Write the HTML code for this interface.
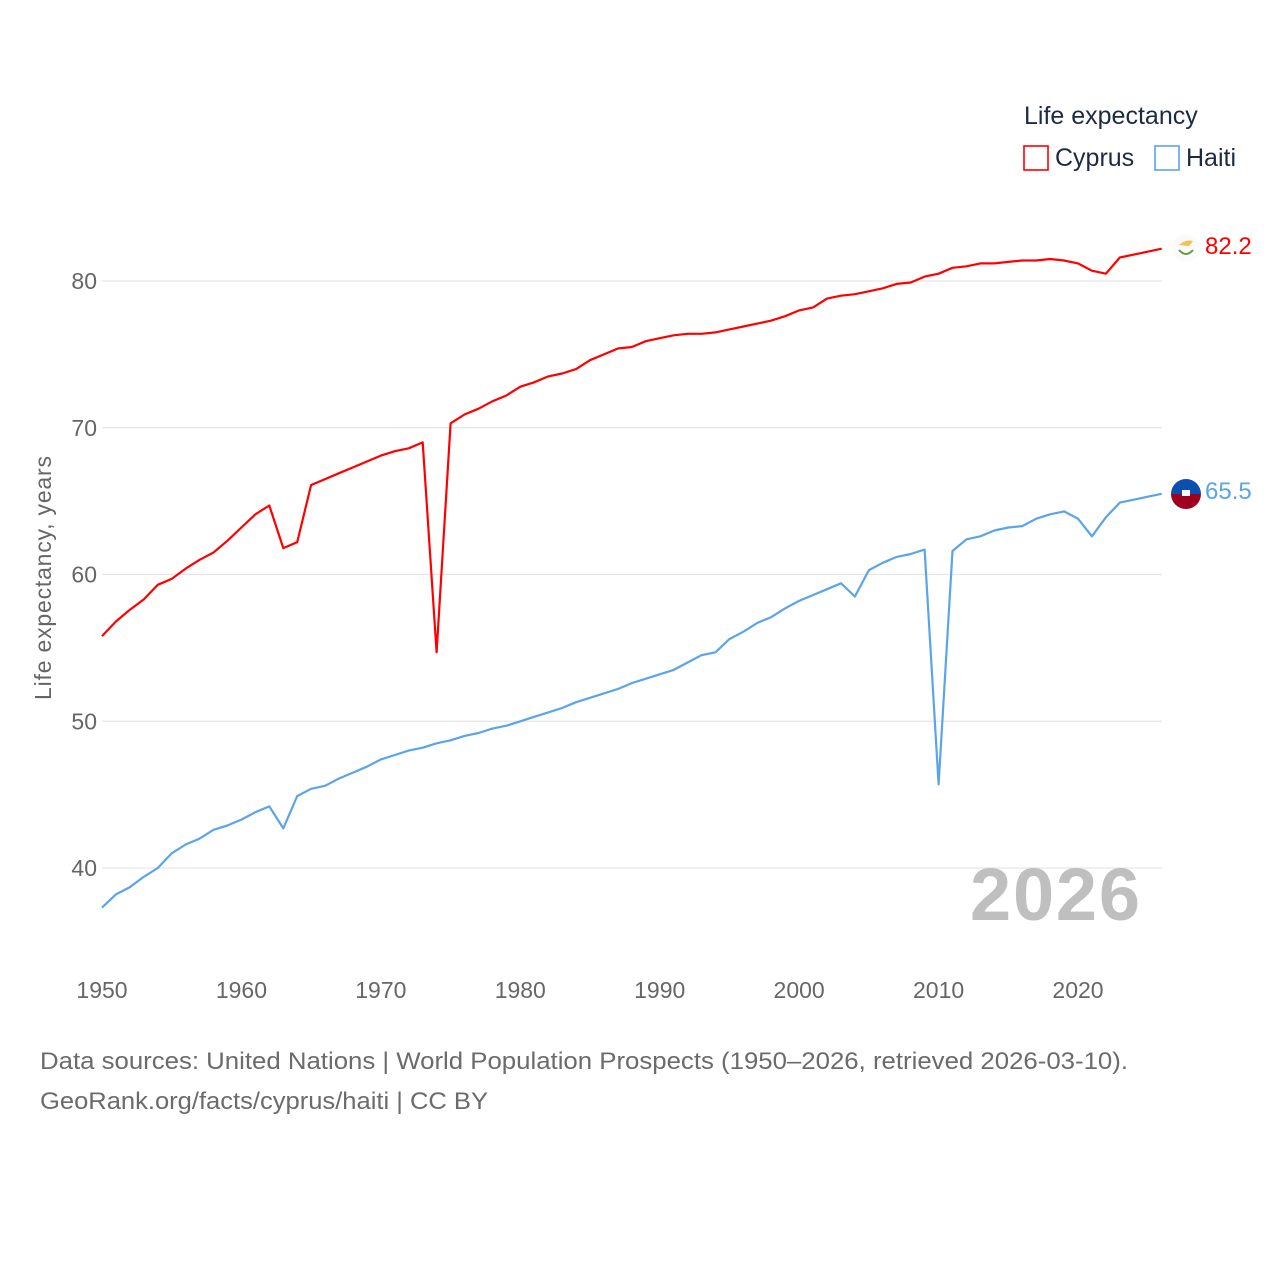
<!DOCTYPE html>
<html><head><meta charset="utf-8"><style>
body{margin:0;background:#fff;font-family:"Liberation Sans",sans-serif}
svg text{font-family:"Liberation Sans",sans-serif}
</style></head><body>
<svg width="1280" height="1280" viewBox="0 0 1280 1280">
<g id="grid"></g>
<g id="ylab"></g>
<g id="xlab"></g>
<text transform="translate(51,578) rotate(-90)" text-anchor="middle" font-size="23" fill="#666" textLength="244">Life expectancy, years</text>
<text x="1140" y="920" text-anchor="end" font-size="74" font-weight="bold" fill="#bfbfbf" textLength="170">2026</text>
<g id="series"></g>
<g>
<text x="1024" y="124" font-size="25" fill="#1d2a44">Life expectancy</text>
<g><rect x="1024" y="146" width="24" height="24" fill="none" stroke="#ff0000" stroke-width="1.6"/><text x="1055" y="166" font-size="25" fill="#1d2a44">Cyprus</text></g>
<g><rect x="1155" y="146" width="24" height="24" fill="none" stroke="#5ba4ea" stroke-width="1.6"/><text x="1186" y="166" font-size="25" fill="#1d2a44">Haiti</text></g>
</g>
<g><circle cx="1186" cy="248" r="14" fill="#fafafa"/><path d="M1179 245 q7 -6 14 -4 l-4 5 z" fill="#f2c14e"/><path d="M1179 250 q7 8 14 0" stroke="#6a9a3a" stroke-width="2" fill="none"/></g>
<g><clipPath id="hc"><circle cx="1186" cy="494" r="15"/></clipPath><g clip-path="url(#hc)"><rect x="1170" y="478" width="32" height="16" fill="#0b4fb0"/><rect x="1170" y="494" width="32" height="16" fill="#a00020"/><rect x="1182" y="490" width="8" height="6" fill="#fff"/></g></g>
<text x="1205" y="254" font-size="24" fill="#ff0000">82.2</text>
<text x="1205" y="499" font-size="24" fill="#5ba4ea">65.5</text>
<text x="40" y="1069" font-size="24" fill="#6b6b6b" textLength="1088" lengthAdjust="spacingAndGlyphs">Data sources: United Nations | World Population Prospects (1950–2026, retrieved 2026-03-10).</text>
<text x="40" y="1109" font-size="24" fill="#6b6b6b" textLength="448" lengthAdjust="spacingAndGlyphs">GeoRank.org/facts/cyprus/haiti | CC BY</text>
</svg>
<script>
const years=[];for(let y=1950;y<=2026;y++)years.push(y);
const yTicks=[40,50,60,70,80];
const xTicks=[1950,1960,1970,1980,1990,2000,2010,2020];
const cyprus=[55.8,56.8,57.6,58.3,59.3,59.7,60.4,61.0,61.5,62.3,63.2,64.1,64.7,61.8,62.2,66.1,66.5,66.9,67.3,67.7,68.1,68.4,68.6,69.0,54.7,70.3,70.9,71.3,71.8,72.2,72.8,73.1,73.5,73.7,74.0,74.6,75.0,75.4,75.5,75.9,76.1,76.3,76.4,76.4,76.5,76.7,76.9,77.1,77.3,77.6,78.0,78.2,78.8,79.0,79.1,79.3,79.5,79.8,79.9,80.3,80.5,80.9,81.0,81.2,81.2,81.3,81.4,81.4,81.5,81.4,81.2,80.7,80.5,81.6,81.8,82.0,82.2];
const haiti=[37.3,38.2,38.7,39.4,40.0,41.0,41.6,42.0,42.6,42.9,43.3,43.8,44.2,42.7,44.9,45.4,45.6,46.1,46.5,46.9,47.4,47.7,48.0,48.2,48.5,48.7,49.0,49.2,49.5,49.7,50.0,50.3,50.6,50.9,51.3,51.6,51.9,52.2,52.6,52.9,53.2,53.5,54.0,54.5,54.7,55.6,56.1,56.7,57.1,57.7,58.2,58.6,59.0,59.4,58.5,60.3,60.8,61.2,61.4,61.7,45.7,61.6,62.4,62.6,63.0,63.2,63.3,63.8,64.1,64.3,63.8,62.6,63.9,64.9,65.1,65.3,65.5];
const X=y=>102+(y-1950)*(976/70);
const Y=v=>281+(80-v)*(587/40);
const NS="http://www.w3.org/2000/svg";
const grid=document.getElementById('grid'),yl=document.getElementById('ylab'),xl=document.getElementById('xlab'),sg=document.getElementById('series');
yTicks.forEach(t=>{
 const l=document.createElementNS(NS,'line');
 
 
 l.setAttribute('x1',102);l.setAttribute('x2',1162);l.setAttribute('y1',Y(t));l.setAttribute('y2',Y(t));
 l.setAttribute('stroke','#e6e6e6');l.setAttribute('stroke-width','1.3');grid.appendChild(l);
 const tx=document.createElementNS(NS,'text');
 
 
 tx.setAttribute('x',97);tx.setAttribute('y',Y(t)+8);tx.setAttribute('text-anchor','end');tx.setAttribute('font-size','23');tx.setAttribute('fill','#666');tx.textContent=t;yl.appendChild(tx);
});
xTicks.forEach(t=>{
 const tx=document.createElementNS(NS,'text');
 
 
 tx.setAttribute('x',X(t));tx.setAttribute('y',998);tx.setAttribute('text-anchor','middle');tx.setAttribute('font-size','23');tx.setAttribute('fill','#666');tx.textContent=t;xl.appendChild(tx);
});
function line(vals,color,name){
 const p=document.createElementNS(NS,'path');
 
 
 p.setAttribute('d',vals.map((v,i)=>(i?'L':'M')+X(years[i]).toFixed(1)+' '+Y(v).toFixed(1)).join(''));
 p.setAttribute('fill','none');p.setAttribute('stroke',color);p.setAttribute('stroke-width','2.2');p.setAttribute('stroke-linejoin','round');
 sg.appendChild(p);
}
line(haiti,'#5ba4ea','haiti-line');
line(cyprus,'#ff0000','cyprus-line');
</script>
</body></html>
